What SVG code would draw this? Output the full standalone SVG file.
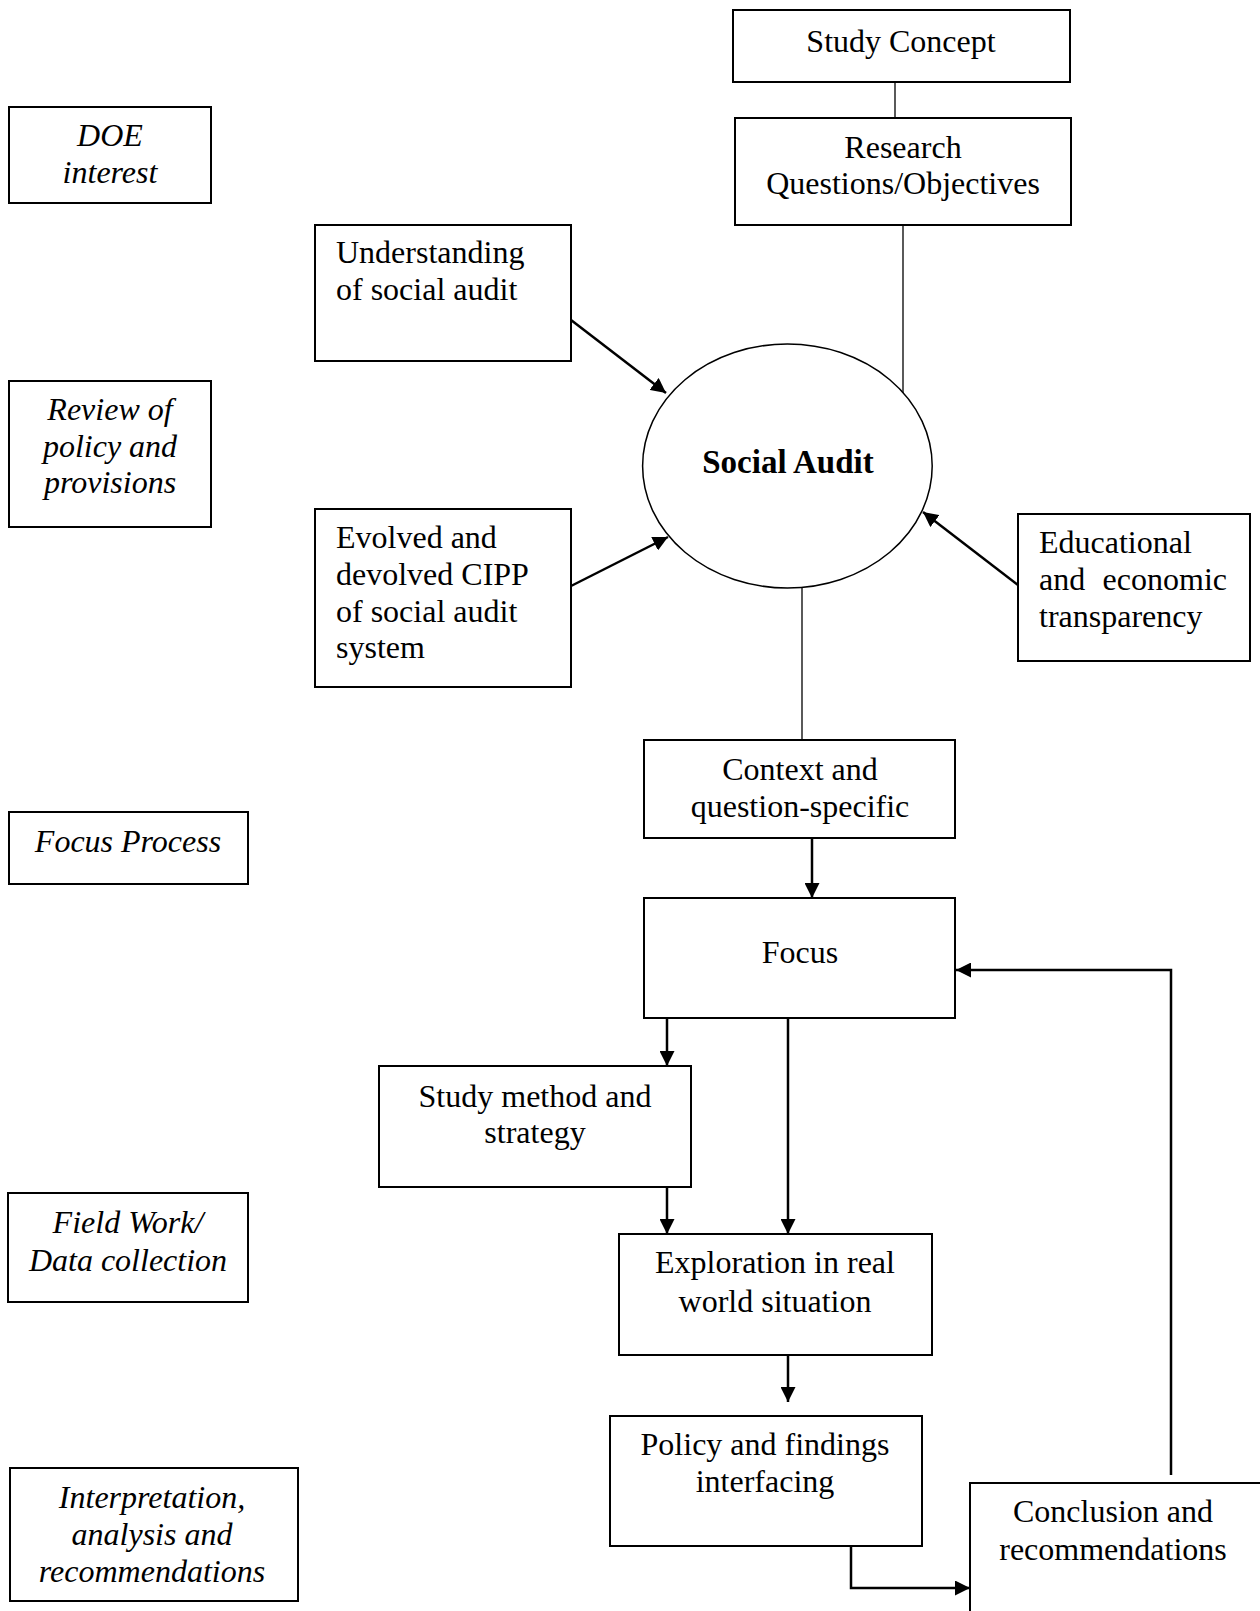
<svg xmlns="http://www.w3.org/2000/svg" width="1260" height="1611" viewBox="0 0 1260 1611">
<style>
.box{fill:#fff;stroke:#000;stroke-width:2}
text{font-family:"Liberation Serif","Times New Roman",serif;font-size:32px;fill:#000}
.c{text-anchor:middle}
.i{font-style:italic}
.b{font-weight:bold;font-size:33px}
.ln{fill:none;stroke:#000;stroke-width:1.3}
.ar{fill:none;stroke:#000;stroke-width:2.5;marker-end:url(#ah)}
</style>
<defs>
<marker id="ah" markerUnits="userSpaceOnUse" markerWidth="16" markerHeight="15" refX="15" refY="7.5" orient="auto">
<path d="M0,0 L15,7.5 L0,15 z" fill="#000"/>
</marker>
</defs>
<rect width="1260" height="1611" fill="#fff"/>
<g id="connectors">
<line class="ln" x1="895" y1="82" x2="895" y2="118"/>
<line class="ln" x1="903" y1="225" x2="903" y2="393"/>
<line class="ar" x1="571" y1="320" x2="666" y2="393"/>
<line class="ar" x1="571" y1="586" x2="668" y2="537"/>
<line class="ar" x1="1018" y1="585" x2="923" y2="512"/>
<line class="ln" x1="802" y1="587" x2="802" y2="740"/>
<line class="ar" x1="812" y1="838" x2="812" y2="898"/>
<line class="ar" x1="667" y1="1018" x2="667" y2="1066"/>
<line class="ar" x1="788" y1="1018" x2="788" y2="1234"/>
<line class="ar" x1="667" y1="1187" x2="667" y2="1234"/>
<line class="ar" x1="788" y1="1355" x2="788" y2="1402"/>
<polyline class="ar" points="1171,1475 1171,970 956,970"/>
<polyline class="ar" points="851,1540 851,1588 970,1588"/>
</g>
<g id="doe"><rect class="box" x="9" y="107" width="202" height="96"/>
<text class="c i" x="110" y="146">DOE</text><text class="c i" x="110" y="183">interest</text></g>
<g id="review"><rect class="box" x="9" y="381" width="202" height="146"/>
<text class="c i" x="110" y="420">Review of</text><text class="c i" x="110" y="457">policy and</text><text class="c i" x="110" y="493">provisions</text></g>
<g id="focusprocess"><rect class="box" x="9" y="812" width="239" height="72"/>
<text class="c i" x="128" y="852">Focus Process</text></g>
<g id="fieldwork"><rect class="box" x="8" y="1193" width="240" height="109"/>
<text class="c i" x="128" y="1233">Field Work/</text><text class="c i" x="128" y="1271">Data collection</text></g>
<g id="interpretation"><rect class="box" x="10" y="1468" width="288" height="133"/>
<text class="c i" x="152" y="1508">Interpretation,</text><text class="c i" x="152" y="1545">analysis and</text><text class="c i" x="152" y="1582">recommendations</text></g>
<g id="studyconcept"><rect class="box" x="733" y="10" width="337" height="72"/>
<text class="c" x="901" y="52">Study Concept</text></g>
<g id="research"><rect class="box" x="735" y="118" width="336" height="107"/>
<text class="c" x="903" y="158">Research</text><text class="c" x="903" y="194">Questions/Objectives</text></g>
<g id="understanding"><rect class="box" x="315" y="225" width="256" height="136"/>
<text x="336" y="263">Understanding</text><text x="336" y="300">of social audit</text></g>
<g id="socialaudit"><ellipse cx="787.4" cy="466" rx="144.8" ry="122" fill="#fff" stroke="#000" stroke-width="1.5"/>
<text class="c b" x="788" y="473">Social Audit</text></g>
<g id="evolved"><rect class="box" x="315" y="509" width="256" height="178"/>
<text x="336" y="548">Evolved and</text><text x="336" y="585">devolved CIPP</text><text x="336" y="622">of social audit</text><text x="336" y="658">system</text></g>
<g id="educational"><rect class="box" x="1018" y="514" width="232" height="147"/>
<text x="1039" y="553">Educational</text><text x="1039" y="590">and</text><text x="1227" y="590" text-anchor="end">economic</text><text x="1039" y="627">transparency</text></g>
<g id="context"><rect class="box" x="644" y="740" width="311" height="98"/>
<text class="c" x="800" y="780">Context and</text><text class="c" x="800" y="817">question-specific</text></g>
<g id="focus"><rect class="box" x="644" y="898" width="311" height="120"/>
<text class="c" x="800" y="963">Focus</text></g>
<g id="studymethod"><rect class="box" x="379" y="1066" width="312" height="121"/>
<text class="c" x="535" y="1107">Study method and</text><text class="c" x="535" y="1143">strategy</text></g>
<g id="exploration"><rect class="box" x="619" y="1234" width="313" height="121"/>
<text class="c" x="775" y="1273">Exploration in real</text><text class="c" x="775" y="1312">world situation</text></g>
<g id="policy"><rect class="box" x="610" y="1416" width="312" height="130"/>
<text class="c" x="765" y="1455">Policy and findings</text><text class="c" x="765" y="1492">interfacing</text></g>
<g id="conclusion"><rect class="box" x="970" y="1483" width="300" height="140"/>
<text class="c" x="1113" y="1522">Conclusion and</text><text class="c" x="1113" y="1560">recommendations</text></g>
</svg>
